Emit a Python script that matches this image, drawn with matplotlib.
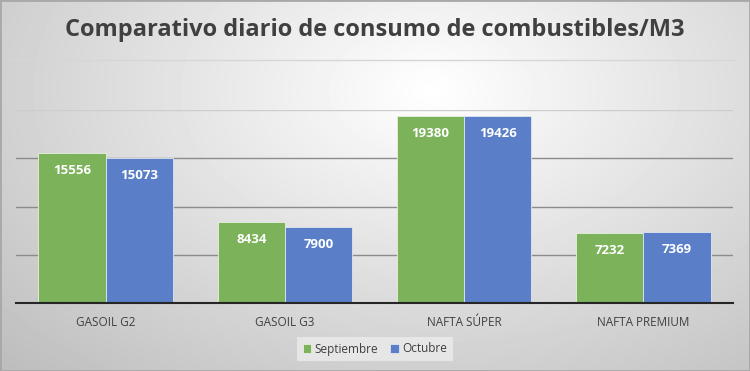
import numpy as np
import matplotlib.pyplot as plt

categorias = ["GASOIL G2", "GASOIL G3", "NAFTA SÚPER", "NAFTA PREMIUM"]
septiembre = [15556, 8434, 19380, 7232]
octubre = [15073, 7900, 19426, 7369]
series = ["Septiembre", "Octubre"]

plt.rcParams['font.family'] = ['Open Sans', 'DejaVu Sans']

fig = plt.figure(figsize=(7.5, 3.71), dpi=100)

# fondo con degradado radial
bg = fig.add_axes([0, 0, 1, 1])
yy, xx = np.mgrid[0:371, 0:750]
r = np.sqrt(((xx - 430) / 520.0) ** 2 + ((yy - 90) / 330.0) ** 2)
shade = 1.0 - 0.22 * np.clip(r, 0, 1.2)
bg.imshow(shade, cmap='gray', vmin=0, vmax=1, aspect='auto', extent=[0, 1, 0, 1])
bg.set_xlim(0, 1)
bg.set_ylim(0, 1)
bg.plot([10 / 750, 735 / 750], [1 - 60 / 371] * 2, color='#d6d6d6', lw=1.0)
for s in bg.spines.values():
    s.set_color('#a8a8a8')
    s.set_linewidth(2.0)
bg.set_xticks([])
bg.set_yticks([])

ax = fig.add_axes([16 / 750, 1 - 303 / 371, (733 - 16) / 750, (303 - 110) / 371])
ax.patch.set_alpha(0)

x = np.arange(len(categorias))
w = 0.375
b1 = ax.bar(x - w / 2, septiembre, w, color='#7cb25a', edgecolor='#e8f0e0', linewidth=0.6, label=series[0], zorder=3)
b2 = ax.bar(x + w / 2, octubre, w, color='#5a7fc8', edgecolor='#e0e6f2', linewidth=0.6, label=series[1], zorder=3)

for bars in (b1, b2):
    for b in bars:
        ax.annotate(f"{int(b.get_height())}", (b.get_x() + b.get_width() / 2, b.get_height()),
                    xytext=(0, -8), textcoords='offset points', ha='center', va='top',
                    color='white', fontsize=9.5, fontweight='bold', zorder=4)

ax.set_xlim(-0.5, len(categorias) - 0.5)
ax.set_ylim(0, 20000)
ax.set_yticks([5000, 10000, 15000, 20000])
ax.yaxis.grid(True, color='#8c8c8c', linewidth=1.0, zorder=0)
ax.get_ygridlines()[-1].set_color('#cdcdcd')
ax.tick_params(axis='y', left=False, labelleft=False)
ax.tick_params(axis='x', length=0, pad=9, labelsize=8.5, labelcolor='#404040')
ax.set_xticks(x)
ax.set_xticklabels(categorias)
for s in ['top', 'right', 'left']:
    ax.spines[s].set_visible(False)
ax.spines['bottom'].set_color('#262626')
ax.spines['bottom'].set_linewidth(1.5)
ax.spines['bottom'].set_zorder(5)

leg = fig.legend(loc='center', bbox_to_anchor=(375 / 750, 1 - 349 / 371), ncol=2, frameon=True,
                 fontsize=8.5, handlelength=0.7, handleheight=0.7, handletextpad=0.3,
                 columnspacing=1.0, borderpad=0.5, fancybox=False)
leg.get_frame().set_facecolor('#ececec')
leg.get_frame().set_edgecolor('none')
for t in leg.get_texts():
    t.set_color('#404040')

fig.text(0.5, 1 - 30 / 371, "Comparativo diario de consumo de combustibles/M3", ha='center', va='center',
         fontsize=17, fontweight='bold', color='#404040')

fig.savefig('out.png', dpi=100)
